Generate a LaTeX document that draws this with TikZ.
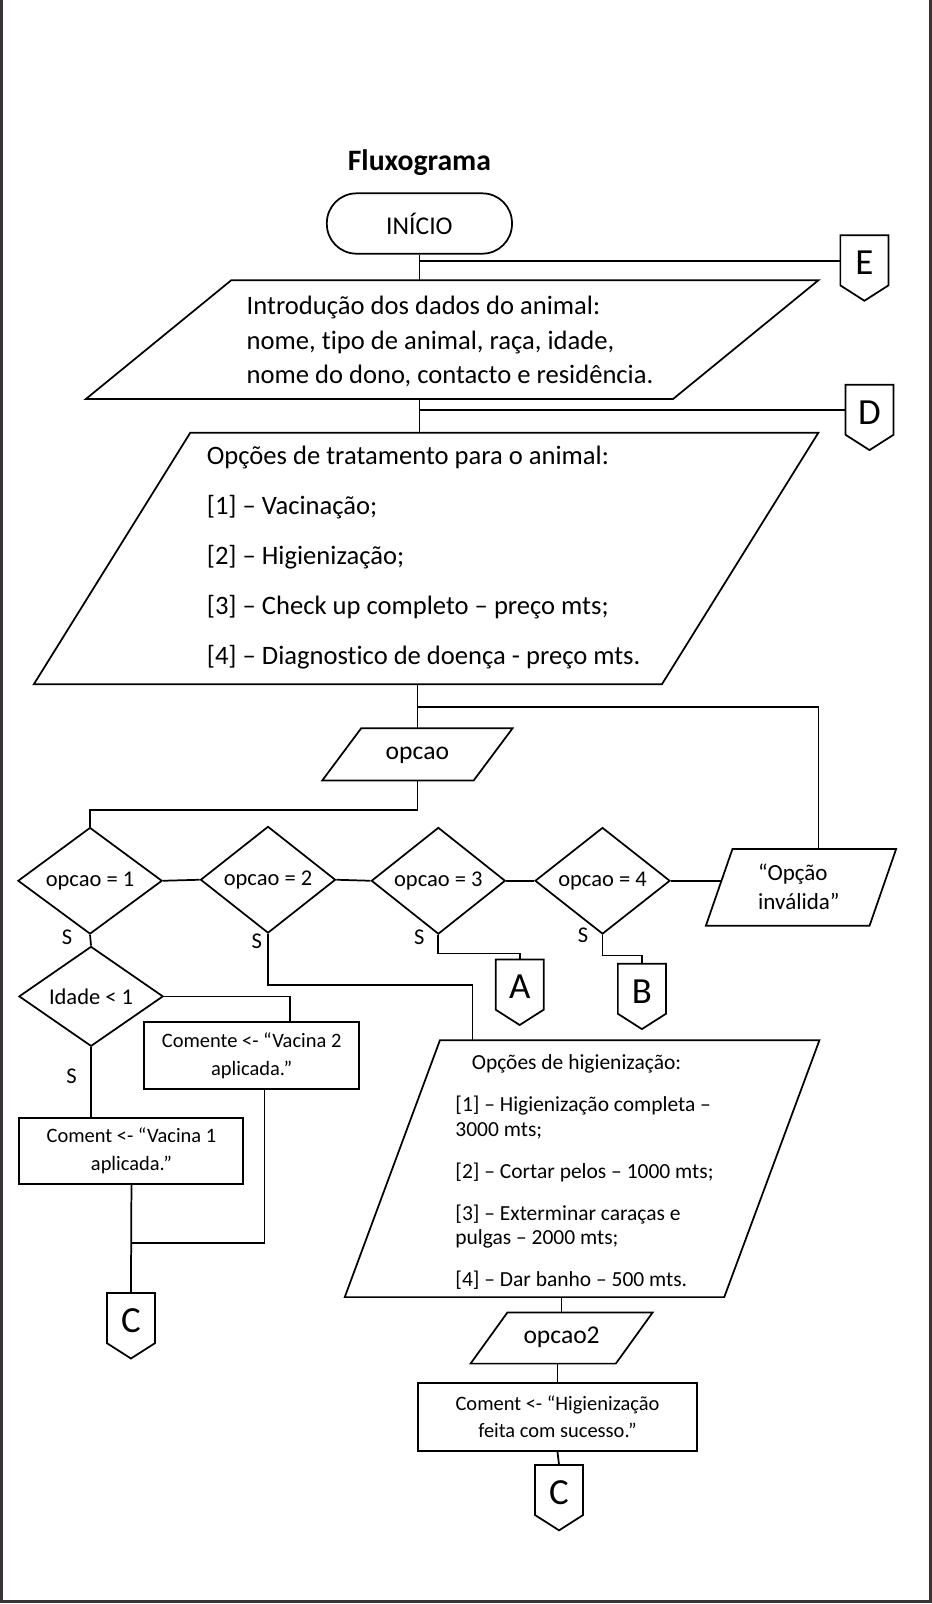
\documentclass[tikz,border=0pt]{standalone}
\usepackage{fontspec}
\setmainfont[Ligatures={NoCommon}]{Carlito}
\usetikzlibrary{shapes.geometric}

\definecolor{framecol}{HTML}{3A3333}

\tikzset{
  flow/.style={line width=1.7pt, line join=miter},
  terminal/.style={draw, line width=1.7pt, rounded corners=29pt, minimum width=181pt,
    minimum height=59pt, font=\fontsize{25}{30}\selectfont},
  decision/.style={draw, diamond, line width=1.7pt, inner sep=0pt, minimum height=89pt,
    font=\fontsize{22}{26}\selectfont},
  process/.style={draw, rectangle, line width=2pt, align=center, inner sep=0pt,
    font=\fontsize{20}{27}\selectfont},
  bigtext/.style={align=left, anchor=west, inner sep=0pt, font=\fontsize{26}{34}\selectfont},
  smalltext/.style={inner sep=0pt, font=\fontsize{22}{26}\selectfont},
  letter/.style={inner sep=0pt, font=\fontsize{36}{36}\selectfont},
}

% parallelogram: name, top-left x, top y, bottom-left x, bottom y, width
\newcommand{\iobox}[6]{%
  \draw[flow] (#2,#3) coordinate (#1-nw) -- ++(#6,0) coordinate (#1-ne)
    -- (#4+#6,#5) coordinate (#1-se) -- (#4,#5) coordinate (#1-sw) -- cycle;
}
% off-page connector: name, centre x, top y, letter
\newcommand{\offpage}[4]{%
  \draw[flow] (#2-23.5,#3) -- (#2+23.5,#3) -- (#2+23.5,#3+49) -- (#2,#3+64)
    -- (#2-23.5,#3+49) -- cycle;
  \coordinate (#1-n) at (#2,#3);
  \coordinate (#1-w) at (#2-23.5,#3+25);
  \node[letter] (#1) at (#2,#3+27) {#4};
}

\begin{document}
\begin{tikzpicture}[x=1pt, y=-1pt]
  \useasboundingbox (0,0) rectangle (911,1568);
  \draw[line width=3pt, framecol] (1.5,0) -- (1.5,1565.5) -- (909.5,1565.5) -- (909.5,0);

  \node[font=\bfseries\fontsize{29}{34}\selectfont] (title) at (410,159) {Fluxograma};
  \node[terminal] (inicio) at (410,218.5) {INÍCIO};

  % dados do animal
  \iobox{dados}{226}{274}{84}{390}{574}
  \node[bigtext] (dadostxt) at (241,334) {Introdução dos dados do animal:\\
    nome, tipo de animal, raça, idade,\\nome do dono, contacto e residência.};
  \offpage{E}{845}{230}{E}
  \draw[flow] (inicio.south) -- (inicio.south |- dados-nw);
  \draw[flow] (E-w) -- (E-w -| inicio.south);

  % opcoes de tratamento
  \iobox{trat}{186}{423}{33}{669}{614}
  \node[bigtext, font=\fontsize{26}{49}\selectfont] (trattxt) at (202,545)
    {Opções de tratamento para o animal:\\{}[1] – Vacinação;\\{}[2] – Higienização;\\
     {}[3] – Check up completo – preço mts;\\{}[4] – Diagnostico de doença - preço mts.};
  \offpage{D}{850}{376}{D}
  \draw[flow] (dados-sw -| inicio.south) -- (trat-nw -| inicio.south);
  \draw[flow] (D-w) -- (D-w -| inicio.south);

  \iobox{opc}{353}{712}{315}{763}{148}
  \node[font=\fontsize{25}{30}\selectfont] (opctxt) at (408,738) {opcao};
  \coordinate (split) at (trat-sw -| opctxt);
  \draw[flow] (split) -- (opc-nw -| opctxt);

  % decisoes
  \node[decision, minimum width=141pt] (op1) at (88,861) {opcao = 1};
  \node[decision, minimum width=132pt] (op2) at (262,860) {opcao = 2};
  \node[decision, minimum width=131pt] (op3) at (428.5,861) {opcao = 3};
  \node[decision, minimum width=132pt] (op4) at (589,861) {opcao = 4};
  \iobox{inval}{716}{830}{690}{905}{160}
  \node[smalltext, align=left, anchor=west, font=\fontsize{22.5}{29}\selectfont] (invaltxt)
    at (741,867) {“Opção\\inválida”};
  \coordinate (invaltop) at (800,830);

  \draw[flow] ([yshift=-22pt]split) -| (invaltop);
  \draw[flow] (opc-sw -| opctxt) -- ++(0,29) -| (op1.north);
  \draw[flow] (op1.east) -- (op2.west);
  \draw[flow] (op2.east) -- (op3.west);
  \draw[flow] (op3.east) -- (op4.west);
  \draw[flow] (op4.east) -- (intersection of op4.east--op3.east and inval-nw--inval-sw);

  \node[smalltext] (s1) at (65.5,916) {S};
  \node[smalltext] (s2) at (251,920) {S};
  \node[smalltext] (s3) at (410,916) {S};
  \node[smalltext] (s4) at (570,914) {S};

  % vacinacao
  \node[decision, minimum width=141pt] (idade) at (89,974) {Idade < 1};
  \node[smalltext] (s5) at (70,1052) {S};
  \node[process, minimum width=210pt, minimum height=66pt] (vac2) at (246,1032)
    {Comente <- “Vacina 2\\aplicada.”};
  \node[process, minimum width=219pt, minimum height=64pt] (vac1) at (128.5,1125)
    {Coment <- “Vacina 1\\aplicada.”};
  \offpage{C1}{128}{1264}{C}
  \coordinate (cjoin) at (128,1215);
  \draw[flow] (op1.south) -- (idade.north);
  \draw[flow] (idade.east) -| ([xshift=37.5pt]vac2.north);
  \draw[flow] (idade.south) -- (idade.south |- vac1.north);
  \draw[flow] (vac1.south) -- (C1-n);
  \draw[flow] ([xshift=12.5pt]vac2.south) |- (cjoin);

  \offpage{A}{508}{938}{A}
  \offpage{B}{627.5}{942}{B}
  \draw[flow] (op3.south) -- ++(0,18) -| (A-n);
  \draw[flow] (op4.south) -- ++(0,20) -| (B-n);

  % higienizacao
  \iobox{higi}{430}{1017}{337}{1268}{371}
  \coordinate (higitop) at (462,1017);
  \draw[flow] (op2.south) -- ++(0,50) -| (higitop);
  \node[align=left, anchor=west, inner sep=0pt, font=\fontsize{21}{24}\selectfont] (higitxt)
    at (445,1146) {\hspace*{16pt}Opções de higienização:\\[17pt]
     {}[1] – Higienização completa –\\3000 mts;\\[17pt]
     {}[2] – Cortar pelos – 1000 mts;\\[17pt]
     {}[3] – Exterminar caraças e\\pulgas – 2000 mts;\\[17pt]
     {}[4] – Dar banho – 500 mts.};

  \iobox{opc2}{496}{1283}{460}{1333}{142}
  \node[font=\fontsize{25}{30}\selectfont] (opc2txt) at (549,1307) {opcao2};
  \draw[flow] (higi-sw -| opc2txt) -- (opc2-nw -| opc2txt);
  \node[process, minimum width=272pt, minimum height=67pt] (fim) at (545,1385)
    {Coment <- “Higienização\\feita com sucesso.”};
  \draw[flow] (opc2-sw -| fim) -- (fim.north);
  \offpage{C2}{546.5}{1432}{C}
  \draw[flow] (fim.south) -- (C2-n);
\end{tikzpicture}
\end{document}
